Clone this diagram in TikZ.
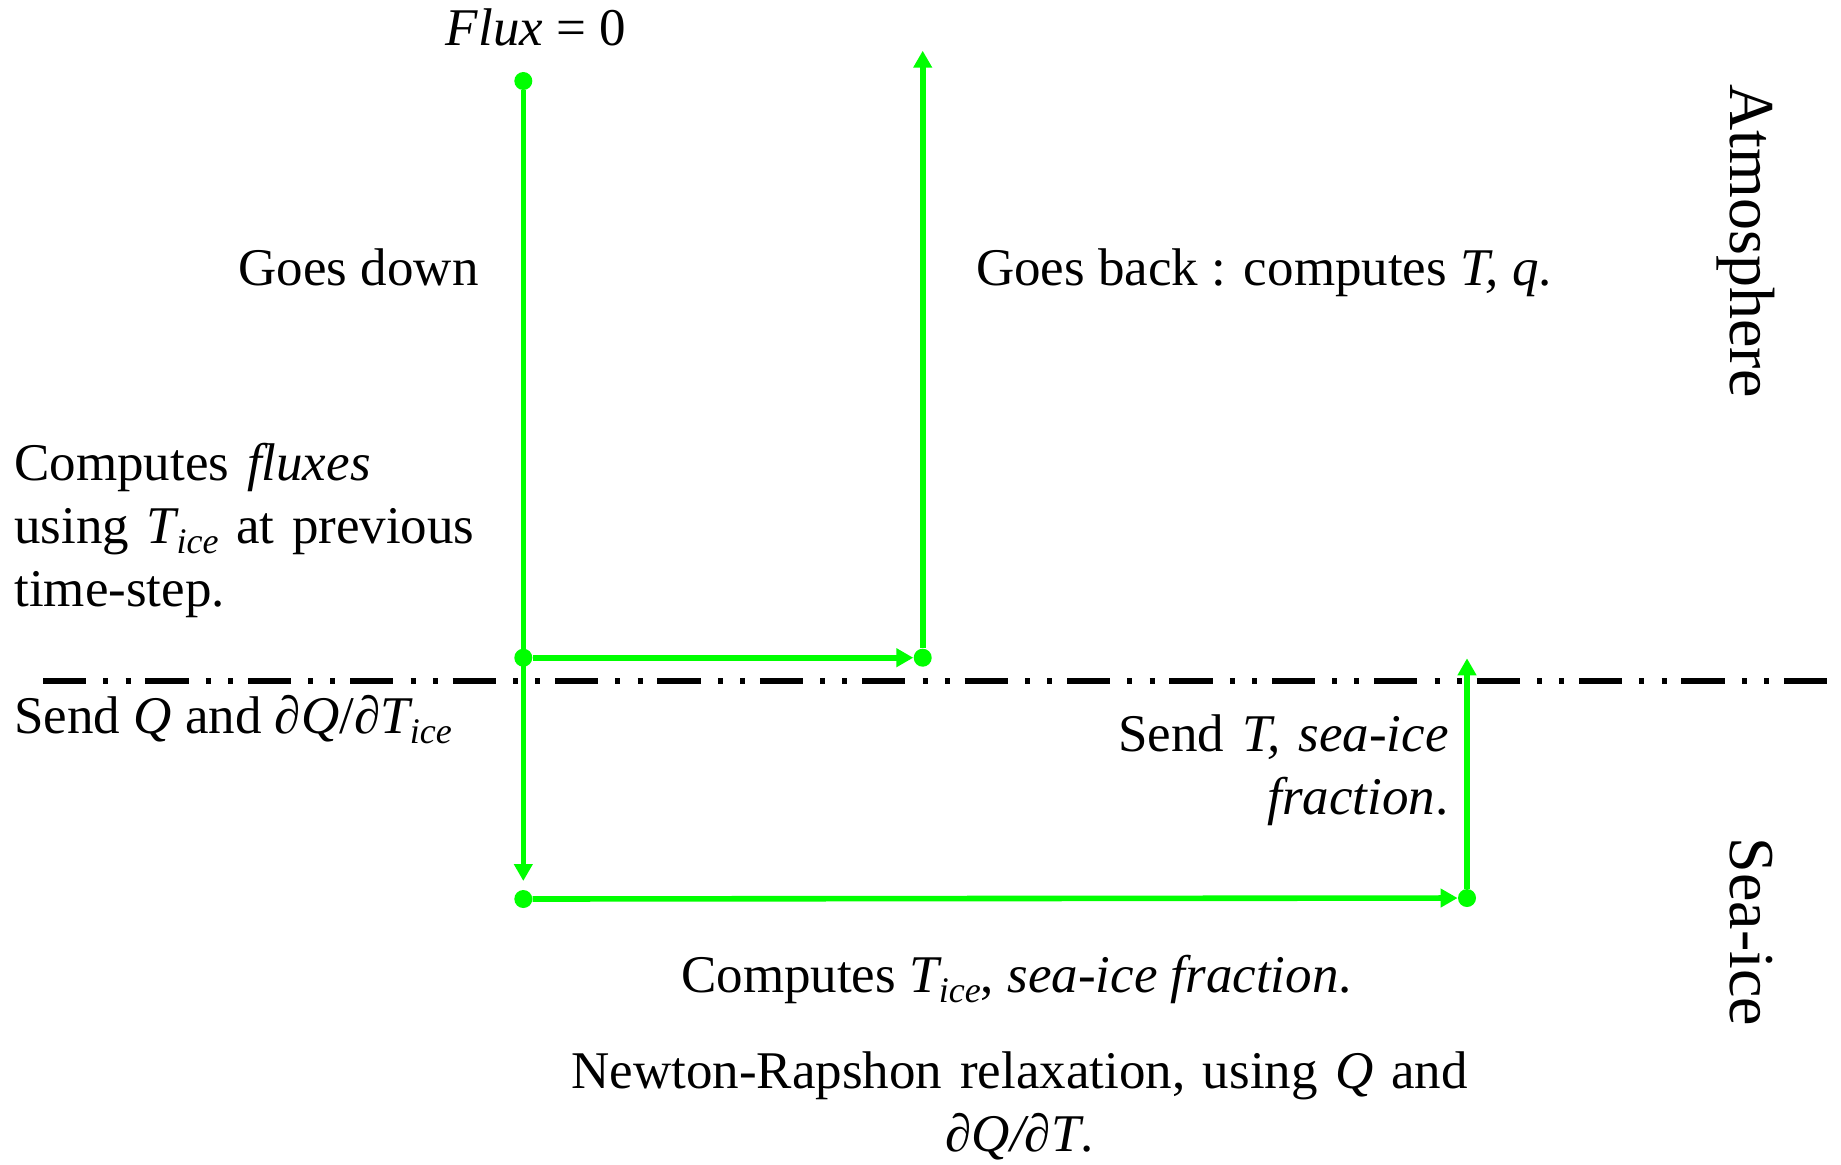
\documentclass[tikz,border=0pt]{standalone}
\usepackage{fontspec}
\setmainfont{Liberation Serif}
\usepackage{graphicx}
\usetikzlibrary{arrows.meta}
\definecolor{flowgreen}{RGB}{0,255,0}
\newcommand{\icesub}{\kern-1.5pt\raisebox{-5pt}{\fontsize{18pt}{18pt}\selectfont\itshape ice}}
\begin{document}
\begin{tikzpicture}[x=0.5pt,y=-0.5pt,
 txt/.style={inner sep=0, font=\fontsize{26.5pt}{31.5pt}\selectfont},
 side/.style={inner sep=0, font=\fontsize{32pt}{38pt}\selectfont, rotate=-90, anchor=base},
 dot/.style={circle, fill=flowgreen, inner sep=0, minimum size=9pt},
 flow/.style={draw=flowgreen, line width=2.8pt, -{Triangle[length=8.5pt,width=9pt]}},
 sepline/.style={line width=2.6pt, dash pattern=on 21.6pt off 8.6pt on 2.5pt off 8.6pt on 2.5pt off 7.4pt}]
\useasboundingbox (0,0) rectangle (1841,1164);
\fill[white] (0,0) rectangle (1841,1164);

% separator
\coordinate (sepL) at (43,681);
\coordinate (sepR) at (1841,681);
\draw[sepline] (sepL) -- (sepR);

% points
\node[dot] (top) at (523.3,81) {};
\node[dot] (midL) at (523.3,657.7) {};
\node[dot] (midR) at (922.7,657.7) {};
\coordinate (upEnd) at (922.7,50.7);
\coordinate (downEnd) at (523.3,881);
\node[dot] (botL) at (523.3,899) {};
\node[dot] (botR) at (1467,898) {};
\coordinate (upEnd2) at (1467,658.3);

% connectors
\draw[flow] (top) -- (downEnd);
\draw[flow] (midL) -- (midR);
\draw[flow] (midR) -- (upEnd);
\draw[flow] (botL) -- (botR);
\draw[flow] (botR) -- (upEnd2);

% texts
\node[txt, anchor=base] (flux) at (536,45) {\textit{Flux} = 0};
\node[txt, anchor=base east] (down) at (479,285) {Goes down};
\node[txt, anchor=base west] (back) at (975.7,285) {Goes back : computes \textit{T, q}.};
\node[txt, anchor=base west, text width=240pt, align=left] (fluxes) at (14,480) {Computes \textit{fluxes}\\ using \textit{T}\icesub{} at previous\\ time-step.};
\node[txt, anchor=base west] (sendQ) at (14,733) {Send \textit{Q} and ∂\textit{Q}/∂\textit{T}\icesub};
\node[txt, anchor=base east, text width=170pt, align=right] (sendT) at (1449,751) {Send \textit{T, sea-ice}\\ \textit{fraction}.};
\node[txt, anchor=base] (ctice) at (1016.5,992) {Computes \textit{T}\icesub, \textit{sea-ice fraction}.};
\node[txt, anchor=base, text width=450pt, align=center] (newton) at (1019.7,1088) {Newton-Rapshon relaxation, using \textit{Q} and\\ \textit{∂Q/∂T}.};

\node[side] (atm) at (1730,241) {Atmosphere};
\node[side] (sea) at (1730,932) {Sea-ice};
\end{tikzpicture}
\end{document}
